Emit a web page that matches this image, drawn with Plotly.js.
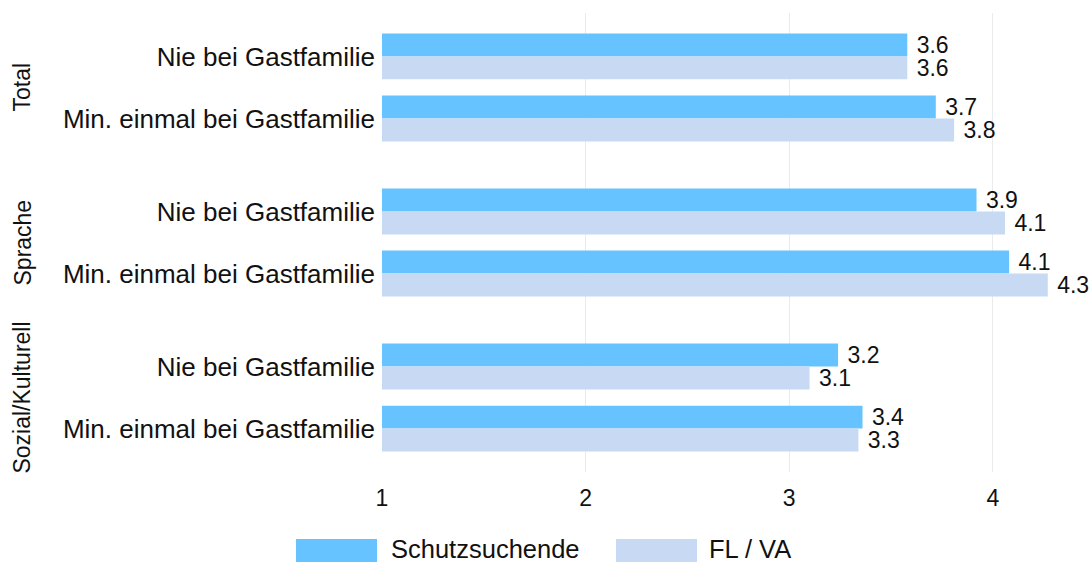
<!DOCTYPE html>
<html>
<head>
<meta charset="utf-8">
<script src="https://cdn.plot.ly/plotly-3.0.1.min.js"></script>
<style>html,body{margin:0;padding:0;background:#fff;}#chart{width:1091px;height:563px;}</style>
</head>
<body>
<div id="chart"></div>
<script>
// ---- data ----
const groups = ['Total', 'Sprache', 'Sozial/Kulturell'];
const categories = ['Nie bei Gastfamilie', 'Min. einmal bei Gastfamilie'];
const seriesNames = ['Schutzsuchende', 'FL / VA'];
const schutzsuchende = [3.58, 3.72, 3.92, 4.08, 3.24, 3.36];
const flva = [3.58, 3.81, 4.06, 4.27, 3.10, 3.34];
const xTicks = [1, 2, 3, 4];
const axisStart = 1;

// ---- derived positions ----
const groupStep = 2.5;
const yPos = [], yLabels = [];
groups.forEach((g, gi) => categories.forEach((c, ci) => { yPos.push(gi * groupStep + ci); yLabels.push(c); }));
const groupCenters = groups.map((g, gi) => gi * groupStep + (categories.length - 1) / 2);

const colors = ['#66C3FF', '#C8D9F4'];
const font = 'Liberation Sans, Arial, sans-serif';

// bars drawn from axisStart (base) to value
const mkTrace = (vals, i) => ({
  type: 'bar', orientation: 'h', name: seriesNames[i],
  x: vals.map(v => v - axisStart), y: yPos, base: axisStart,
  marker: {color: colors[i], line: {width: 0}},
  text: vals.map(v => '\u00A0' + v.toFixed(1)), textposition: 'outside',
  textfont: {family: font, size: 23, color: '#111'},
  constraintext: 'none', cliponaxis: false,
  hoverinfo: 'none', showlegend: false
});
const traces = [mkTrace(schutzsuchende, 0), mkTrace(flva, 1)];

// plot area geometry in px
const W = 1091, H = 563, mL = 382, mR = 14, mT = 13, mB = 91;
const pw = W - mL - mR, ph = H - mT - mB;
const px = p => (p - mL) / pw;
const py = p => (H - mB - p) / ph;

const annotations = groups.map((g, gi) => ({
  text: g, xref: 'paper', yref: 'y', x: px(22), y: groupCenters[gi],
  textangle: -90, showarrow: false, xanchor: 'center', yanchor: 'middle',
  font: {family: font, size: 23, color: '#111'}
}));
// custom legend (wide swatches)
const legendItems = [{x0: 296, x1: 377, tx: 389}, {x0: 616, x1: 697, tx: 707}];
const shapes = [];
legendItems.forEach((it, i) => {
  shapes.push({type: 'rect', xref: 'paper', yref: 'paper', x0: px(it.x0), x1: px(it.x1), y0: py(562), y1: py(539),
    fillcolor: colors[i], line: {width: 0}});
  annotations.push({text: seriesNames[i], xref: 'paper', yref: 'paper', x: px(it.tx), y: py(549),
    xanchor: 'left', yanchor: 'middle', showarrow: false, font: {family: font, size: 25.5, color: '#111'}});
});

const layout = {
  width: W, height: H,
  margin: {l: mL, r: mR, t: mT, b: mB, pad: 0},
  paper_bgcolor: '#fff', plot_bgcolor: '#fff',
  barmode: 'group', bargap: 0.26, bargroupgap: 0,
  showlegend: false,
  xaxis: {
    range: [axisStart, axisStart + pw / 203.6], tickvals: xTicks, ticktext: xTicks.map(String),
    showgrid: true, gridcolor: '#EBEBEB', gridwidth: 1, zeroline: false, showline: false,
    ticks: '', tickfont: {family: font, size: 23, color: '#111'}, ticklabelstandoff: 10
  },
  yaxis: {
    range: [6.7, -0.7], tickvals: yPos, ticktext: yLabels,
    showgrid: false, zeroline: false, showline: false, ticks: '',
    tickfont: {family: font, size: 26, color: '#111'}, ticklabelstandoff: 6
  },
  annotations: annotations, shapes: shapes,
  font: {family: font}
};

Plotly.newPlot('chart', traces, layout, {displayModeBar: false, staticPlot: true});
</script>
</body>
</html>
